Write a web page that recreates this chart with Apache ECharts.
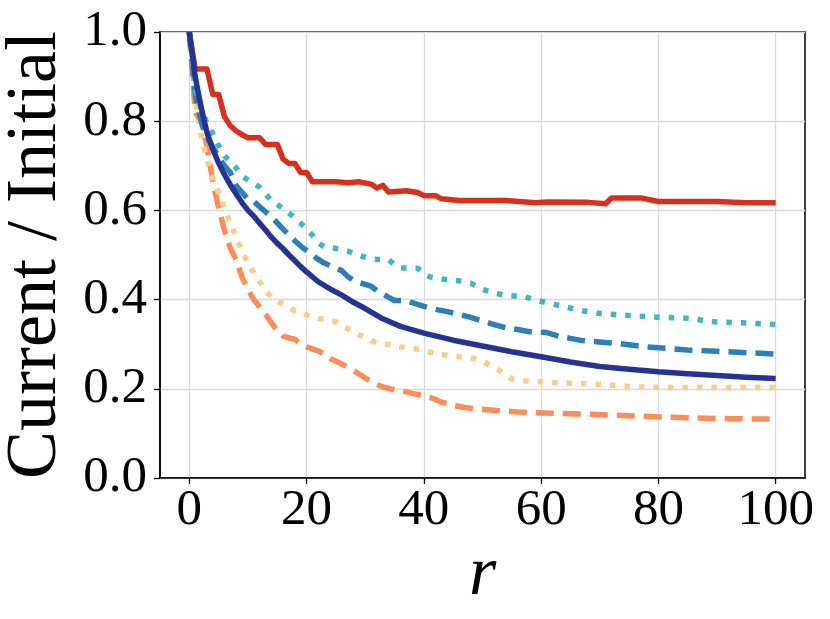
<!DOCTYPE html>
<html>
<head>
<meta charset="utf-8">
<script src="https://cdn.jsdelivr.net/npm/echarts@6/dist/echarts.min.js"></script>
<style>html,body{margin:0;padding:0;background:#fff;}#c{width:830px;height:619px;}</style>
</head>
<body>
<div id="c"></div>
<script>
const xTicks = [0, 20, 40, 60, 80, 100];
const yTicks = [0, 0.2, 0.4, 0.6, 0.8, 1.0];

const redSolid = [[0,1.0],[1,0.917],[3,0.917],[4,0.86],[5,0.86],[6,0.81],[7,0.79],[8,0.778],[9,0.77],[10,0.763],[12,0.763],[13,0.748],[15,0.748],[16,0.715],[17,0.705],[18,0.705],[19,0.685],[20,0.685],[21,0.664],[25,0.664],[27,0.662],[29,0.664],[31,0.659],[32,0.65],[33,0.656],[34,0.641],[37,0.644],[39,0.64],[40,0.633],[42,0.633],[43,0.626],[46,0.622],[54,0.622],[59,0.617],[61,0.619],[68,0.618],[71,0.615],[72,0.628],[77,0.628],[80,0.62],[90,0.62],[95,0.617],[100,0.617]];

const orangeDashed = [[0,1.0],[1,0.82],[2,0.8],[3,0.745],[4,0.665],[5,0.605],[6,0.555],[7,0.515],[8,0.489],[9,0.45],[10,0.422],[11,0.4],[12,0.383],[13,0.367],[14,0.348],[15,0.33],[16,0.318],[17,0.314],[18,0.311],[19,0.3],[20,0.294],[22,0.285],[23,0.278],[24,0.268],[25,0.262],[27,0.249],[29,0.233],[30,0.224],[32,0.21],[33,0.204],[35,0.198],[37,0.193],[39,0.187],[41,0.181],[42,0.176],[43,0.17],[45,0.163],[47,0.158],[49,0.155],[52,0.152],[56,0.148],[62,0.145],[68,0.143],[72,0.141],[78,0.138],[82,0.136],[88,0.134],[92,0.133],[100,0.132]];

const peachDotted = [[0,1.0],[1,0.85],[2,0.77],[3,0.715],[4,0.672],[5,0.64],[6,0.605],[7,0.57],[8,0.54],[9,0.507],[10,0.482],[11,0.46],[12,0.44],[13,0.42],[14,0.405],[15,0.397],[16,0.39],[17,0.382],[18,0.375],[19,0.37],[20,0.366],[22,0.358],[24,0.353],[25,0.35],[26,0.342],[27,0.335],[28,0.328],[29,0.321],[30,0.315],[31,0.308],[32,0.303],[34,0.299],[36,0.294],[38,0.291],[40,0.286],[42,0.279],[44,0.275],[46,0.272],[48,0.27],[50,0.262],[51,0.255],[52,0.248],[53,0.24],[54,0.23],[55,0.222],[57,0.218],[60,0.216],[62,0.214],[66,0.212],[70,0.21],[74,0.206],[78,0.204],[82,0.203],[100,0.203]];

const blueDashed = [[0,1.0],[1,0.86],[2,0.8],[3,0.765],[4,0.742],[5,0.72],[6,0.7],[7,0.685],[8,0.655],[9,0.64],[10,0.625],[11,0.62],[12,0.608],[13,0.597],[14,0.585],[15,0.572],[16,0.558],[17,0.545],[18,0.532],[19,0.52],[20,0.51],[21,0.5],[22,0.49],[23,0.482],[25,0.47],[26,0.465],[27,0.452],[28,0.443],[29,0.438],[31,0.43],[32,0.42],[34,0.405],[35,0.398],[37,0.398],[38,0.393],[40,0.385],[42,0.378],[44,0.373],[46,0.367],[48,0.36],[50,0.352],[52,0.344],[54,0.337],[56,0.333],[58,0.328],[61,0.326],[63,0.318],[65,0.313],[67,0.308],[70,0.305],[73,0.302],[76,0.297],[78,0.294],[82,0.29],[85,0.287],[90,0.284],[95,0.281],[100,0.278]];

const cyanDotted = [[0,1.0],[1,0.87],[2,0.83],[3,0.795],[4,0.772],[5,0.745],[6,0.722],[7,0.71],[8,0.695],[9,0.677],[10,0.668],[11,0.66],[12,0.652],[13,0.637],[14,0.622],[15,0.613],[16,0.604],[17,0.594],[18,0.583],[19,0.571],[20,0.558],[21,0.544],[22,0.527],[23,0.518],[25,0.515],[27,0.509],[29,0.499],[31,0.491],[34,0.489],[35,0.478],[36,0.471],[39,0.47],[40,0.458],[41,0.451],[43,0.446],[46,0.442],[48,0.437],[50,0.423],[52,0.415],[54,0.409],[57,0.407],[59,0.399],[62,0.39],[64,0.384],[67,0.375],[70,0.369],[72,0.367],[76,0.363],[81,0.36],[86,0.358],[88,0.352],[90,0.35],[94,0.348],[100,0.344]];

const navySolid = [[0,1.0],[1,0.9],[2,0.832],[3,0.775],[4,0.737],[5,0.706],[6,0.68],[7,0.657],[8,0.637],[9,0.617],[10,0.6],[11,0.587],[12,0.571],[13,0.556],[14,0.54],[15,0.526],[16,0.514],[17,0.5],[18,0.487],[19,0.474],[20,0.462],[22,0.44],[24,0.424],[26,0.41],[28,0.394],[30,0.38],[33,0.357],[36,0.34],[40,0.325],[45,0.309],[50,0.296],[55,0.283],[60,0.272],[65,0.26],[70,0.25],[75,0.244],[80,0.238],[85,0.234],[90,0.23],[95,0.226],[100,0.223]];

const FONT = 'Liberation Serif';
const chart = echarts.init(document.getElementById('c'), null, {renderer: 'canvas'});

function mk(data, color, type) {
  return {
    type: 'line', data: data, showSymbol: false, symbol: 'none', animation: false,
    lineStyle: {color: color, width: 5.5, type: type, cap: 'butt', join: 'round'},
    emphasis: {disabled: true}
  };
}

chart.setOption({
  animation: false,
  backgroundColor: '#fff',
  grid: {left: 160, right: 25, top: 32, bottom: 141, show: true, borderColor: '#000', borderWidth: 1.5, containLabel: false, outerBoundsMode: 'none'},
  xAxis: {
    type: 'value', min: -5, max: 105,
    name: 'r', nameLocation: 'middle', nameGap: 53,
    nameTextStyle: {fontSize: 70, fontStyle: 'italic', fontFamily: FONT, color: '#000'},
    axisLine: {show: true, onZero: false, lineStyle: {color: '#000', width: 1.5}},
    axisTick: {show: true, customValues: xTicks, length: 6, lineStyle: {color: '#000', width: 1.3}},
    axisLabel: {customValues: xTicks, fontSize: 51, fontFamily: FONT, color: '#000', margin: 7},
    splitLine: {show: true, lineStyle: {color: '#dadada', width: 1.3}}
  },
  yAxis: {
    type: 'value', min: 0, max: 1, interval: 0.2,
    name: 'Current / Initial', nameLocation: 'middle', nameGap: 87, nameRotate: 90,
    nameTextStyle: {fontSize: 72, fontFamily: FONT, color: '#000'},
    axisLine: {show: true, onZero: false, lineStyle: {color: '#000', width: 1.5}},
    axisTick: {show: true, customValues: yTicks, length: 6, lineStyle: {color: '#000', width: 1.3}},
    axisLabel: {customValues: yTicks, fontSize: 51, fontFamily: FONT, color: '#000', margin: 13,
      formatter: function (v) { return v.toFixed(1); }},
    splitLine: {show: true, lineStyle: {color: '#dadada', width: 1.3}}
  },
  series: [
    mk(redSolid, '#d7301f', 'solid'),
    mk(orangeDashed, '#fc8d59', [18, 9]),
    mk(peachDotted, '#fdcc8a', [5.5, 9]),
    mk(blueDashed, '#2c7fb8', [18, 9]),
    mk(cyanDotted, '#41b6c4', [5.5, 9]),
    mk(navySolid, '#253494', 'solid')
  ]
});
</script>
</body>
</html>
